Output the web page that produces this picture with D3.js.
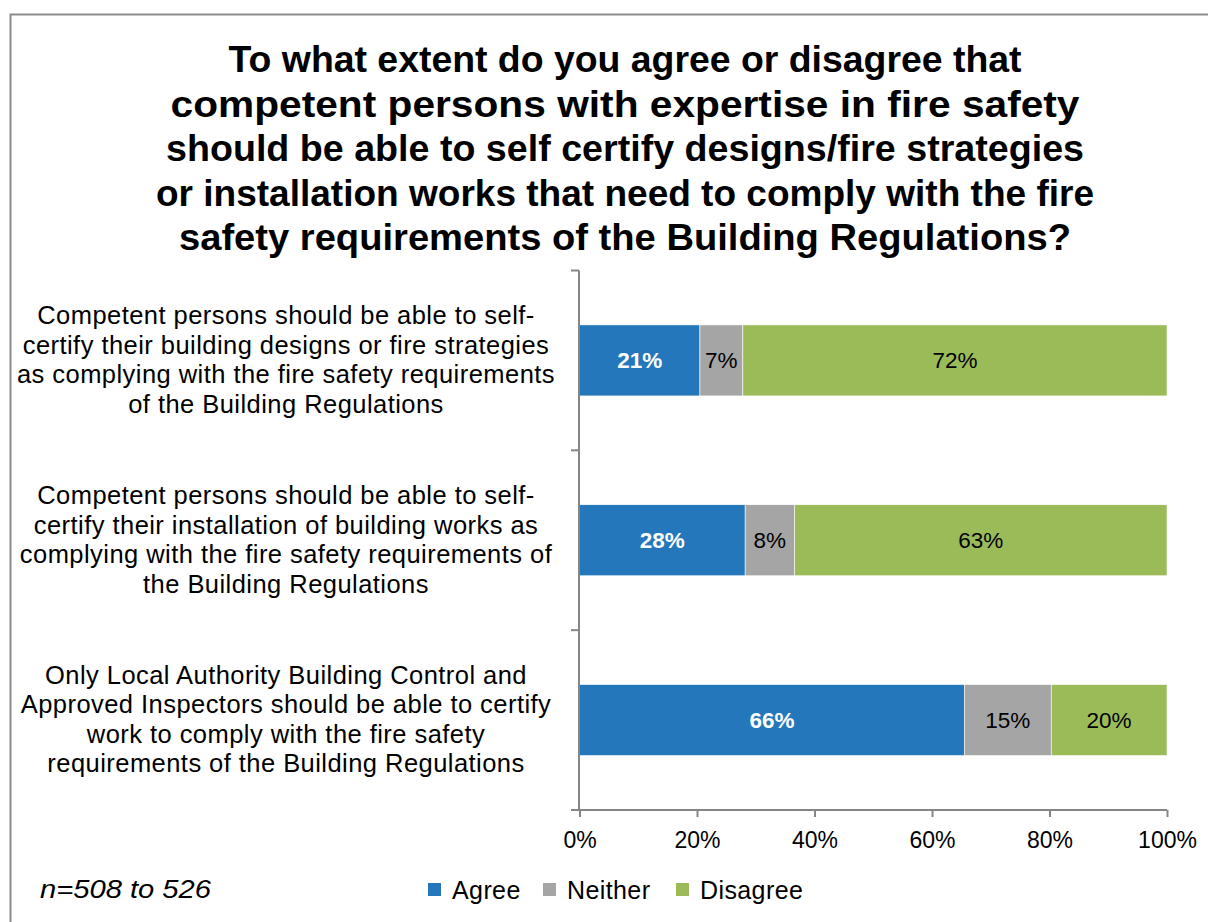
<!DOCTYPE html>
<html>
<head>
<meta charset="utf-8">
<script src="https://cdn.jsdelivr.net/npm/d3@7"></script>
<style>
  html, body { margin: 0; padding: 0; background: #fff; }
  svg { display: block; font-family: "Liberation Sans", Arial, sans-serif; }
</style>
</head>
<body>
<svg id="chart" width="1208" height="922"></svg>
<script>
// Survey responses, % of respondents per statement
const titleLines = [
  "To what extent do you agree or disagree that",
  "competent persons with expertise in fire safety",
  "should be able to self certify designs/fire strategies",
  "or installation works that need to comply with the fire",
  "safety requirements of the Building Regulations?"
];
const categories = [
  ["Competent persons should be able to self-",
   "certify their building designs or fire strategies",
   "as complying with the fire safety requirements",
   "of the Building Regulations"],
  ["Competent persons should be able to self-",
   "certify their installation of building works as",
   "complying with the fire safety requirements of",
   "the Building Regulations"],
  ["Only Local Authority Building Control and",
   "Approved Inspectors should be able to certify",
   "work to comply with the fire safety",
   "requirements of the Building Regulations"]
];
const seriesNames = ["Agree", "Neither", "Disagree"];
const agree    = [20.5, 28.2, 65.5];
const neither  = [7.3, 8.4, 14.8];
const disagree = [72.2, 63.4, 19.7];
const xTicks = [0, 20, 40, 60, 80, 100];
const sampleNote = "n=508 to 526";

const colors = ["#2477BA", "#A5A5A5", "#9BBB59"];

const svg = d3.select("#chart");

// outer frame
svg.append("rect")
  .attr("x", 10.5).attr("y", 14.5)
  .attr("width", 1210).attr("height", 920)
  .attr("fill", "none").attr("stroke", "#8c8c8c").attr("stroke-width", 2);

// title
const titleWidths = [793, 909, 918, 938, 892];
svg.append("g").selectAll("text")
  .data(titleLines)
  .join("text")
  .attr("x", 625)
  .attr("y", (d, i) => 72 + i * 44.6)
  .attr("text-anchor", "middle")
  .attr("font-weight", "bold")
  .attr("font-size", 36)
  .attr("textLength", (d, i) => titleWidths[i])
  .attr("lengthAdjust", "spacingAndGlyphs")
  .attr("fill", "#000")
  .text(d => d);

// scales
const x = d3.scaleLinear().domain([0, 100]).range([579.5, 1167]);
const y = d3.scaleBand().domain(d3.range(categories.length)).range([270.5, 810]).padding(0);
const barH = y.bandwidth() * 0.395;

// stacked data
const rows = categories.map((c, i) => ({ i, values: [agree[i], neither[i], disagree[i]] }));
const stackKeys = [0, 1, 2];
const stacked = d3.stack().keys(stackKeys).value((d, k) => d.values[k])(rows);

const barG = svg.append("g");
stacked.forEach((layer, k) => {
  const g = barG.append("g");
  g.selectAll("rect")
    .data(layer)
    .join("rect")
    .attr("x", d => x(d[0]))
    .attr("width", d => x(d[1]) - x(d[0]))
    .attr("y", d => y(d.data.i) + (y.bandwidth() - barH) / 2)
    .attr("height", barH)
    .attr("fill", colors[k])
    .attr("stroke", "#ffffff")
    .attr("stroke-width", 0.6);
  g.selectAll("text")
    .data(layer)
    .join("text")
    .attr("x", d => (x(d[0]) + x(d[1])) / 2)
    .attr("y", d => y(d.data.i) + y.bandwidth() / 2 + 8)
    .attr("text-anchor", "middle")
    .attr("font-size", 22.5)
    .attr("font-weight", k === 0 ? "bold" : "normal")
    .attr("fill", k === 0 ? "#fff" : "#000")
    .text(d => Math.round(d[1] - d[0]) + "%");
});

// y axis: line with ticks at band boundaries
const axisColor = "#868686";
const yEdges = d3.range(categories.length).map(i => y(i)).concat([y.range()[1]]);
svg.append("line")
  .attr("x1", 579).attr("x2", 579)
  .attr("y1", yEdges[0]).attr("y2", 810)
  .attr("stroke", axisColor).attr("stroke-width", 2);
svg.append("g").selectAll("line")
  .data(yEdges)
  .join("line")
  .attr("x1", 571).attr("x2", 579)
  .attr("y1", d => d).attr("y2", d => d)
  .attr("stroke", axisColor).attr("stroke-width", 2);

// category labels
categories.forEach((lines, i) => {
  const cy = y(i) + y.bandwidth() / 2;
  const lh = 29.5;
  svg.append("g").selectAll("text")
    .data(lines)
    .join("text")
    .attr("x", 286)
    .attr("y", (d, j) => cy + (j - (lines.length - 1) / 2) * lh + 8)
    .attr("text-anchor", "middle")
    .attr("font-size", 25.5)
    .attr("letter-spacing", 0.45)
    .attr("fill", "#000")
    .text(d => d);
});

// x axis
const xAxis = svg.append("g")
  .attr("transform", "translate(0,810)")
  .call(d3.axisBottom(x).tickValues(xTicks).tickFormat(d => d + "%").tickSize(7).tickSizeOuter(0));
xAxis.select(".domain").attr("stroke", axisColor).attr("stroke-width", 2)
  .attr("d", `M571,0H${x(100)}`);
xAxis.selectAll(".tick line").attr("stroke", axisColor).attr("stroke-width", 2);
xAxis.selectAll(".tick text")
  .attr("font-family", "Liberation Sans, Arial, sans-serif")
  .attr("font-size", 23)
  .attr("fill", "#000")
  .attr("y", 0)
  .attr("dy", 38);

// legend
const legendX = [428, 543, 676];
const legend = svg.append("g");
seriesNames.forEach((name, k) => {
  legend.append("rect")
    .attr("x", legendX[k]).attr("y", 883)
    .attr("width", 13).attr("height", 13)
    .attr("fill", colors[k]);
  legend.append("text")
    .attr("x", legendX[k] + 24).attr("y", 899)
    .attr("font-size", 25)
    .attr("letter-spacing", 0.4)
    .attr("fill", "#000")
    .text(name);
});

// sample size note
svg.append("text")
  .attr("x", 40).attr("y", 898)
  .attr("font-size", 26)
  .attr("font-style", "italic")
  .attr("textLength", 171)
  .attr("lengthAdjust", "spacingAndGlyphs")
  .attr("fill", "#000")
  .text(sampleNote);
</script>
</body>
</html>
